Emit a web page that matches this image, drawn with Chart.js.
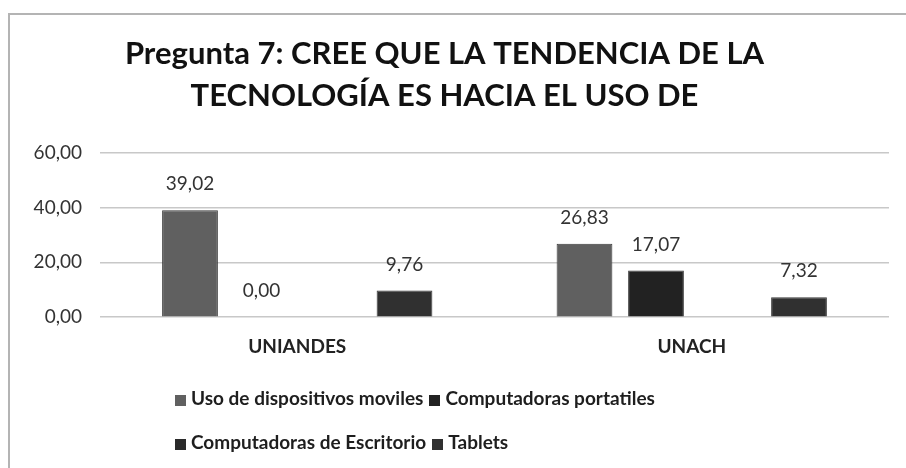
<!DOCTYPE html>
<html>
<head>
<meta charset="utf-8">
<script src="https://cdn.jsdelivr.net/npm/chart.js@4"></script>
<style>
    body { margin: 0; background: #fff; }
    #wrap { position: relative; width: 906px; height: 468px; overflow: hidden; }
    #frame { position: absolute; left: 8px; top: 13px; width: 1000px; height: 1000px;
             border-left: 2px solid #b4b4b4; border-top: 2px solid #b4b4b4; }
    canvas { position: absolute; left: 0; top: 0; }
    #legend { position: absolute; left: 175px; top: 376px; font: bold 19px Lato, sans-serif; color: #1e1e1e; }
    #legend .row { height: 44px; line-height: 44px; white-space: nowrap; }
    #legend .item { display: inline-block; margin-right: 6px; }
    #legend .box { display: inline-block; width: 11px; height: 11px; margin-right: 5px; vertical-align: -1px; }
</style>
</head>
<body>
<div id="wrap">
    <div id="frame"></div>
    <canvas id="chart" width="906" height="468"></canvas>
    <div id="legend"></div>
</div>
<script>
const categories = ['UNIANDES', 'UNACH'];
const seriesNames = ['Uso de dispositivos moviles', 'Computadoras portatiles', 'Computadoras de Escritorio', 'Tablets'];
const movilesValues = [39.02, 26.83];
const portatilesValues = [0.00, 17.07];
const escritorioValues = [null, null];
const tabletsValues = [9.76, 7.32];
const yTicks = [0, 20, 40, 60];
const colors = ['#606060', '#222222', '#2a2a2a', '#303030'];

function fmt(v) {
    return v.toFixed(2).replace('.', ',');
}

const valueLabels = {
    id: 'valueLabels',
    afterDatasetsDraw(chart) {
        const ctx = chart.ctx;
        ctx.save();
        ctx.font = '19px Lato, sans-serif';
        ctx.fillStyle = '#333333';
        ctx.textAlign = 'center';
        ctx.textBaseline = 'middle';
        chart.data.datasets.forEach((ds, i) => {
            chart.getDatasetMeta(i).data.forEach((bar, j) => {
                const v = ds.data[j];
                if (v === null) return;
                ctx.fillText(fmt(v), bar.x, bar.y - 26);
            });
        });
        ctx.restore();
    }
};

const allSeries = [movilesValues, portatilesValues, escritorioValues, tabletsValues];

const chart = new Chart(document.getElementById('chart'), {
    type: 'bar',
    data: {
        labels: categories,
        datasets: allSeries.map((vals, i) => ({
            label: seriesNames[i],
            data: vals,
            backgroundColor: colors[i],
            borderColor: '#3a3a3a',
            borderWidth: 1,
            categoryPercentage: 0.725,
            barPercentage: 0.78
        }))
    },
    options: {
        responsive: false,
        animation: false,
        layout: { padding: { top: 14, right: 17, bottom: 92, left: 0 } },
        plugins: {
            legend: { display: false },
            tooltip: { enabled: false },
            title: {
                display: true,
                text: ['Pregunta 7: CREE QUE LA TENDENCIA DE LA', 'TECNOLOGÍA ES HACIA EL USO DE'],
                color: '#111111',
                font: { family: 'Lato', size: 31, weight: 'bold', lineHeight: 1.35 },
                padding: { top: 19, bottom: 36 }
            }
        },
        scales: {
            x: {
                grid: { display: false, drawTicks: false },
                border: { display: false },
                ticks: { color: '#222222', padding: 18, font: { family: 'Lato', size: 19, weight: 'bold' } }
            },
            y: {
                min: 0,
                max: 60,
                afterBuildTicks(scale) { scale.ticks = yTicks.map(v => ({ value: v })); },
                afterFit(scale) { scale.width = 100; },
                grid: { color: '#c8c8c8', lineWidth: 1.5, drawTicks: false },
                border: { display: false },
                ticks: {
                    color: '#333333',
                    padding: 18,
                    font: { family: 'Lato', size: 19 },
                    callback: v => fmt(v)
                }
            }
        }
    },
    plugins: [valueLabels]
});

// legend in two rows, like the original
const legend = document.getElementById('legend');
const rows = [[0, 1], [2, 3]];
rows.forEach(r => {
    const row = document.createElement('div');
    row.className = 'row';
    r.forEach(i => {
        const item = document.createElement('span');
        item.className = 'item';
        item.innerHTML = '<span class="box" style="background:' + colors[i] + '"></span>' + seriesNames[i];
        row.appendChild(item);
    });
    legend.appendChild(row);
});
</script>
</body>
</html>
